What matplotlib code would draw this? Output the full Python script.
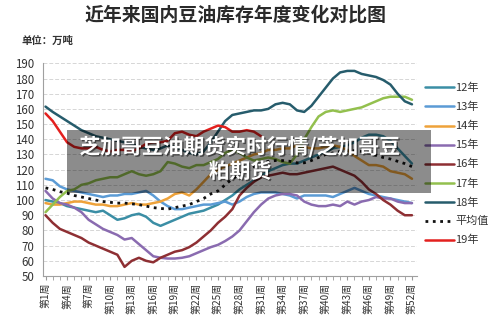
import matplotlib
matplotlib.use("Agg")
import matplotlib.pyplot as plt
import matplotlib.patheffects as pe
from matplotlib.patches import Rectangle

plt.rcParams['font.family'] = ['Noto Sans CJK SC', 'DejaVu Sans']

weeks = list(range(1, 53))
tick_weeks = list(range(1, 53, 3))
tick_labels = [f"第{w}周" for w in tick_weeks]

y2012 = [100, 99, 98, 96, 95, 94, 93, 92, 93, 90, 87, 88, 90, 91, 89, 85, 83, 85, 87, 89,
         91, 92, 93, 95, 97, 100, 103, 107, 110, 113, 116, 119, 121, 123, 124, 124, 126, 128, 130, 132,
         134, 135, 136, 138, 141, 143, 143, 142, 139, 134, 129, 124]
y2013 = [114, 113, 109, 107, 106, 105, 104, 103, 102, 103, 103, 104, 104, 105, 106, 103, 99, 96, 94, 94,
         95, 96, 97, 97, 98, 99, 97, 99, 102, 104, 105, 105, 105, 104, 103, 101, 103, 103, 103, 103,
         102, 104, 106, 108, 106, 104, 103, 102, 101, 100, 99, 98]
y2014 = [98, 97, 97, 98, 99, 99, 98, 97, 97, 96, 96, 97, 98, 97, 97, 98, 99, 101, 104, 105,
         103, 107, 112, 117, 120, 122, 124, 126, 128, 130, 131, 133, 133, 134, 134, 136, 135, 134, 134, 135,
         136, 135, 133, 129, 126, 123, 123, 122, 119, 118, 117, 114]
y2015 = [106, 101, 98, 97, 95, 92, 87, 84, 81, 79, 77, 74, 75, 71, 67, 63, 62, 61.5, 61.5, 62,
         63, 65, 67, 69, 70.5, 73, 76, 80, 86, 92, 97, 101, 103, 104, 104, 103, 99, 97, 96, 96,
         97, 96, 99, 97, 99, 100, 102, 101, 101, 99, 98, 98]
y2016 = [90, 85, 81, 79, 77, 75, 72, 70, 68, 66, 64, 56, 60, 62, 60, 59, 62, 64, 66, 67,
         69, 72, 76, 80, 85, 89, 94, 103, 108, 112, 115, 116, 117, 118, 117, 117, 118, 119, 120, 121,
         122, 120, 118, 116, 112, 107, 104, 100, 97, 93, 90, 90]
y2017 = [92, 97, 102, 106, 107, 110, 111, 113, 114, 115, 115, 117, 119, 117, 116, 117, 119, 125, 124, 122,
         121, 123, 123, 125, 127, 131, 133, 131, 128, 126, 127, 128, 127, 125, 124, 130, 140, 148, 155, 158,
         159, 158, 159, 160, 161, 163, 165, 167, 168, 168, 168, 166]
y2018 = [161.5, 158, 155, 152, 149, 146, 144, 142, 141, 140, 139, 138, 137, 135, 134, 133, 134, 136, 135, 133,
         131, 130, 132, 138, 145, 152, 156, 157, 158, 159, 159, 160, 163, 164, 163, 159, 158, 162, 168, 174,
         180, 184, 185, 185, 183, 182, 181, 179, 176, 170, 165, 163]
y_avg = [108, 107, 105.5, 104.5, 103, 102, 101, 100, 99, 98.5, 98, 98, 97.5, 97, 96, 95, 94.5, 94, 95, 96,
         97, 99, 101, 104, 106, 110, 114, 117, 120, 122, 124, 125.5, 126, 126, 125.5, 124.5, 124.5, 126, 128, 130,
         131, 132, 132.5, 132.5, 132, 131, 129.5, 128, 127, 125.5, 124, 122]
y2019 = [157, 152, 145, 138, 135, 134, 134, 135, 133, 132, 133, 133, 132, 134, 137, 138, 138, 139, 144, 145,
         143, 142, 145, 147, 149, 148, 145, 145, 146, 145, 142]

series = [
    ("12年", y2012, "#3b8ea5", "-"),
    ("13年", y2013, "#5b9bd5", "-"),
    ("14年", y2014, "#eea23a", "-"),
    ("15年", y2015, "#8a6bb0", "-"),
    ("16年", y2016, "#8e2f33", "-"),
    ("17年", y2017, "#93c04e", "-"),
    ("18年", y2018, "#265c6c", "-"),
    ("平均值", y_avg, "#111111", ":"),
    ("19年", y2019, "#e3201e", "-"),
]

fig = plt.figure(figsize=(5.0, 3.23), dpi=100)
ax = fig.add_axes([0.086, 0.1455, 0.748, 0.6585])

for name, vals, color, ls in series:
    lw = 2.0 if ls == ":" else 1.8
    ax.plot(weeks[:len(vals)], vals, color=color, linestyle=ls, linewidth=lw,
            label=name, solid_capstyle='round')

ax.set_xlim(0.65, 52.7)
ax.set_ylim(50, 190)
ax.set_yticks(range(50, 191, 10))
ax.set_xticks(tick_weeks)
ax.set_xticklabels(tick_labels, rotation=90, fontsize=7.2, color="#333333")
ax.set_xticks(weeks, minor=True)
ax.tick_params(axis='x', which='both', length=3, color="#999999", direction='out', pad=2)
ax.tick_params(axis='y', length=0, labelsize=8.3, labelcolor="#333333", pad=6)
ax.grid(axis='y', color="#d6d6d6", linestyle=(0, (4, 2)), linewidth=0.7)
ax.set_axisbelow(True)
for side in ("top", "right"):
    ax.spines[side].set_visible(False)
for side in ("left", "bottom"):
    ax.spines[side].set_color("#a0a0a0")
    ax.spines[side].set_linewidth(0.8)

fig.text(0.472, 0.953, "近年来国内豆油库存年度变化对比图", ha='center', va='center',
         fontsize=13.6, color="#2a2a2a", fontweight='bold')
fig.text(0.044, 0.873, "单位：万吨", ha='left', va='center', fontsize=7.5,
         color="#333333", fontweight='bold')

leg = fig.legend(loc='upper left', bbox_to_anchor=(0.842, 0.757), frameon=False,
                 fontsize=8, handlelength=2.6, handletextpad=0.1, labelspacing=0.78,
                 borderaxespad=0)
for t in leg.get_texts():
    t.set_color("#333333")

# translucent banner with headline text
x0, y0, x1, y1 = 67 / 500, 1 - 193 / 323, 431 / 500, 1 - 130 / 323
fig.add_artist(Rectangle((x0, y0), x1 - x0, y1 - y0, transform=fig.transFigure,
                         facecolor="black", alpha=0.45, edgecolor="none", zorder=10))
fig.text(0.48, 1 - 159 / 323, "芝加哥豆油期货实时行情/芝加哥豆\n粕期货", ha='center', va='center',
         fontsize=15, color="white", fontweight='bold', linespacing=1.2, zorder=11,
         path_effects=[pe.withSimplePatchShadow(offset=(1, -1), shadow_rgbFace="black", alpha=0.5)])

fig.savefig("out.png", dpi=100, facecolor="white")
